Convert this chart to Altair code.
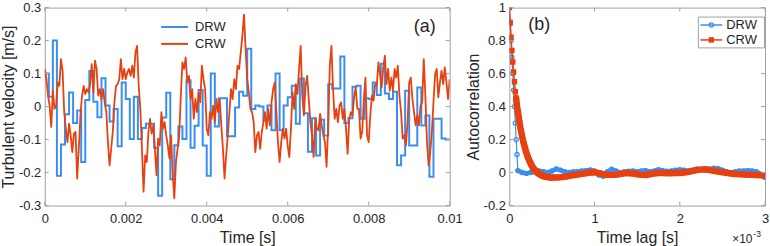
import altair as alt
import pandas as pd

# ---------------- data ----------------
# (a) Discrete random walk: one value per 0.1 ms step
DRW_DT = 1e-4
DRW_STEPS = [
    0.10, 0.03, 0.20, -0.21, -0.115, -0.023, 0.043, -0.05, -0.012, -0.168,
    0.02, 0.108, 0.015, -0.032, 0.086, 0.003, -0.045, -0.007, -0.12, 0.073,
    0.023, -0.098, 0.03, -0.098, -0.065, -0.052, -0.052, -0.125, -0.27, -0.033,
    0.042, -0.22, -0.117, -0.06, -0.098, 0.08, -0.125, -0.058, 0.05, -0.118,
    -0.21, 0.10, -0.06, 0.025, 0.025, -0.09, -0.09, -0.003, 0.045, 0.033,
    0.175, -0.007, 0.003, 0.0, -0.042, 0.003, -0.072, 0.10, -0.072, 0.003,
    0.028, 0.063, -0.052, 0.085, -0.02, -0.137, -0.035, -0.148, -0.04, -0.088,
    0.068, 0.055, 0.055, 0.152, -0.05, -0.035, 0.06, 0.063, -0.037, 0.025,
    0.023, 0.073, 0.035, 0.13, 0.04, 0.023, 0.045, -0.178, -0.148, 0.048,
    -0.118, -0.118, 0.058, -0.057, -0.027, -0.213, -0.037, -0.037, -0.097, -0.1,
]
T_END = 0.01

# (a) Continuous random walk: one value per 0.04 ms
CRW_DT = 4e-5
CRW_VALUES = [
    0.114, 0.083, 0.033, 0.003, -0.062, 0.048, -0.007, 0.003, 0.073, 0.063,
    0.144, 0.109, -0.017, -0.067, -0.108, -0.052, -0.087, -0.138, -0.082, -0.077,
    -0.218, -0.128, -0.027, 0.033, 0.063, 0.038, 0.053, 0.043, 0.068, 0.129,
    0.043, 0.139, 0.114, 0.033, 0.053, 0.023, 0.053, 0.013, -0.017, -0.108,
    -0.178, -0.128, -0.077, 0.013, 0.063, 0.068, 0.083, 0.144, 0.083, 0.114,
    0.083, 0.104, 0.114, 0.093, 0.124, 0.088, 0.164, 0.184, 0.063, -0.007,
    -0.128, -0.258, -0.148, -0.168, -0.077, -0.037, -0.082, -0.057, -0.128, -0.208,
    -0.097, -0.118, -0.017, -0.067, -0.047, -0.087, -0.118, -0.158, -0.087, -0.208,
    -0.278, -0.168, -0.128, -0.087, 0.033, 0.134, 0.114, 0.149, 0.073, 0.093,
    0.023, 0.053, -0.037, 0.023, -0.017, 0.043, 0.013, 0.124, 0.083, 0.053,
    -0.067, -0.087, -0.017, -0.037, 0.003, -0.047, 0.023, -0.017, 0.023, -0.057,
    -0.128, -0.218, -0.148, -0.087, -0.017, 0.053, 0.023, 0.083, 0.053, 0.124,
    0.114, 0.164, 0.214, 0.279, 0.174, 0.083, 0.043, -0.007, -0.017, -0.047,
    -0.138, -0.087, -0.077, -0.128, -0.077, -0.047, -0.017, -0.067, -0.007, -0.057,
    0.013, 0.053, 0.073, -0.017, -0.108, -0.168, -0.108, -0.067, -0.097, -0.067,
    -0.118, -0.153, -0.067, 0.043, -0.007, 0.068, 0.038, 0.114, 0.184, 0.033,
    -0.027, 0.063, 0.093, 0.023, -0.047, -0.087, -0.153, -0.037, -0.067, -0.072,
    -0.022, -0.057, -0.087, -0.108, -0.183, -0.057, 0.124, 0.184, 0.053, -0.037,
    -0.007, -0.047, 0.003, 0.013, -0.037, -0.007, -0.067, -0.143, -0.037, -0.017,
    -0.027, 0.028, 0.058, -0.007, -0.007, -0.097, -0.077, 0.023, 0.088, -0.087,
    -0.108, -0.027, 0.033, 0.018, 0.068, 0.063, 0.134, 0.098, 0.058, 0.119,
    0.154, 0.068, 0.114, 0.048, 0.088, 0.048, 0.114, 0.088, 0.124, 0.033,
    -0.017, -0.097, -0.087, -0.118, -0.047, 0.073, 0.088, 0.023, -0.017, -0.057,
    -0.027, -0.057, 0.003, 0.013, 0.144, 0.033, -0.108, -0.178, -0.138, -0.077,
    0.013, 0.098, 0.114, 0.028, 0.073, 0.109, 0.068, 0.119, 0.073, 0.023, 0.083,
]

# (b) Autocorrelation, lag in ms (axis is x10^-3 s)
ACF_DRW_LAG = [round(0.01 * i, 2) for i in range(11)] + [round(0.05 * i, 2) for i in range(3, 61)]
ACF_DRW = [
    1.0, 0.9, 0.8, 0.7, 0.6, 0.5, 0.4, 0.3, 0.2, 0.11, 0.012,
    0.0, -0.005, 0.0, 0.005, 0.01, 0.005, 0.0, 0.01,
    0.022, 0.015, 0.005, 0.0, 0.005, 0.005, 0.01, 0.012, 0.016, 0.01,
    -0.015, -0.022, 0.005, 0.02, 0.01, 0.0, 0.005, 0.008, 0.01, 0.006,
    0.01, 0.012, 0.005, 0.01, 0.018, 0.012, 0.008, 0.01, 0.015, 0.018,
    0.015, 0.01, 0.015, 0.022, 0.02, 0.015, 0.02, 0.026, 0.024, 0.015,
    0.005, 0.0, 0.005, 0.01, 0.01, 0.012, 0.01, 0.005, -0.01, -0.03,
]
ACF_CRW_LAG = [round(0.01 * i, 2) for i in range(51)] + [round(0.05 * i, 2) for i in range(11, 61)]
ACF_CRW = [
    1.0, 0.91, 0.82, 0.74, 0.67, 0.61, 0.55, 0.49, 0.45, 0.40,
    0.37, 0.335, 0.30, 0.27, 0.245, 0.22, 0.195, 0.175, 0.155, 0.137,
    0.12, 0.105, 0.091, 0.078, 0.066, 0.055, 0.045, 0.036, 0.028, 0.021,
    0.015, 0.009, 0.004, 0.0, -0.004, -0.008, -0.011, -0.014, -0.017, -0.019,
    -0.021, -0.023, -0.025, -0.026, -0.027, -0.028, -0.029, -0.029, -0.03, -0.03,
    -0.03,
    -0.03, -0.028, -0.025, -0.02, -0.016, -0.012, -0.008, -0.004, 0.0, 0.002,
    -0.003, -0.01, -0.013, -0.014, -0.013, -0.009, -0.004, -0.003, -0.006, -0.01,
    -0.014, -0.015, -0.01, -0.005, -0.003, -0.003, -0.004, -0.004, -0.003, -0.002,
    0.0, 0.004, 0.01, 0.015, 0.018, 0.02, 0.016, 0.01, 0.006, 0.002,
    -0.002, -0.006, -0.009, -0.011, -0.012, -0.013, -0.014, -0.015, -0.017, -0.02,
]

SERIES = ["DRW", "CRW"]
XT_A = [0, 0.002, 0.004, 0.006, 0.008, 0.01]
YT_A = [-0.3, -0.2, -0.1, 0, 0.1, 0.2, 0.3]
XT_B = [0, 1, 2, 3]
YT_B = [-0.2, 0, 0.2, 0.4, 0.6, 0.8, 1]

# ---------------- styling ----------------
BLUE = "#3a8ef2"
RED = "#e8400e"
BOX = "#a0a0a0"
TXT = "#262626"
FONT = "Liberation Sans"
W1, W2, H = 407, 257, 199
TL = 4  # inside tick length

LBL = "datum.value < 0 ? '-' + format(-datum.value, '~g') : format(datum.value, '~g')"


def axis(values, title_pad, label_pad):
    return alt.Axis(values=values, labelExpr=LBL, ticks=False, domain=False, grid=False,
                    labelFontSize=13, labelColor=TXT, labelFont=FONT,
                    titleFontSize=16, titleFontWeight="normal", titleColor=TXT, titleFont=FONT,
                    titlePadding=title_pad, labelPadding=label_pad, labelFlush=False)


def xa(field, dom, ticks, title):
    return alt.X(field, scale=alt.Scale(domain=dom, nice=False, zero=False),
                 axis=axis(ticks, 4, 7), title=title)


def ya(field, dom, ticks, title):
    return alt.Y(field, scale=alt.Scale(domain=dom, nice=False, zero=False),
                 axis=axis(ticks, 2, 4), title=title)


def inside_ticks(xticks, yticks, w, xf, yf):
    xdf = pd.DataFrame({"tx": xticks})
    ydf = pd.DataFrame({"ty": yticks})
    base_x = alt.Chart(xdf).mark_rule(color=BOX, strokeWidth=1)
    base_y = alt.Chart(ydf).mark_rule(color=BOX, strokeWidth=1)
    return [
        base_x.encode(x=xf("tx:Q"), y=alt.value(H), y2=alt.value(H - TL)),
        base_x.encode(x=xf("tx:Q"), y=alt.value(0), y2=alt.value(TL)),
        base_y.encode(y=yf("ty:Q"), x=alt.value(0), x2=alt.value(TL)),
        base_y.encode(y=yf("ty:Q"), x=alt.value(w), x2=alt.value(w - TL)),
    ]


one = pd.DataFrame({"k": [0]})

# ---------------- panel (a) ----------------
drw_t = [i * DRW_DT for i in range(len(DRW_STEPS))] + [T_END]
drw_df = pd.DataFrame({"t": drw_t, "v": DRW_STEPS + [DRW_STEPS[-1]]})
crw_df = pd.DataFrame({"t": [i * CRW_DT for i in range(len(CRW_VALUES))], "v": CRW_VALUES})

XA = lambda f: xa(f, [0, 0.01], XT_A, "Time [s]")
YA = lambda f: ya(f, [-0.3, 0.3], YT_A, "Turbulent velocity [m/s]")

drw_line = alt.Chart(drw_df).mark_line(interpolate="step-after", color=BLUE, strokeWidth=2, clip=True).encode(
    x=XA("t:Q"), y=YA("v:Q"))
crw_line = alt.Chart(crw_df).mark_line(color=RED, strokeWidth=1.8, clip=True, strokeJoin="round").encode(
    x=XA("t:Q"), y=YA("v:Q"))

leg_a = []
for i, (name, col) in enumerate(zip(SERIES, [BLUE, RED])):
    yy = 19.5 + 17 * i
    leg_a.append(alt.Chart(one).mark_rule(color=col, strokeWidth=2).encode(
        x=alt.value(117), x2=alt.value(144), y=alt.value(yy)))
    leg_a.append(alt.Chart(one).mark_text(text=name, align="left", baseline="middle", fontSize=13,
                                          font=FONT, color=TXT).encode(x=alt.value(151), y=alt.value(yy)))
lab_a = alt.Chart(one).mark_text(text="(a)", align="left", baseline="middle", fontSize=18, font=FONT,
                                 color=TXT).encode(x=alt.value(371), y=alt.value(20))

panel_a = alt.layer(drw_line, crw_line, *inside_ticks(XT_A, YT_A, W1, XA, YA), *leg_a, lab_a).properties(
    width=W1, height=H)

# ---------------- panel (b) ----------------
acf_d = pd.DataFrame({"lag": ACF_DRW_LAG, "r": ACF_DRW})
acf_c = pd.DataFrame({"lag": ACF_CRW_LAG, "r": ACF_CRW})

XB = lambda f: xa(f, [0, 3], XT_B, "Time lag [s]")
YB = lambda f: ya(f, [-0.2, 1], YT_B, "Autocorrelation")

d_thin = alt.Chart(acf_d).mark_line(color=BLUE, strokeWidth=1.2, clip=True).encode(x=XB("lag:Q"), y=YB("r:Q"))
d_thick = alt.Chart(acf_d).transform_filter("datum.lag >= 0.1").mark_line(
    color=BLUE, strokeWidth=4.5, strokeCap="round", strokeJoin="round", clip=True).encode(x=XB("lag:Q"), y=YB("r:Q"))
d_pts = alt.Chart(acf_d).mark_point(shape="circle", filled=False, size=18, strokeWidth=1.2, color=BLUE,
                                    opacity=1, clip=True).encode(x=XB("lag:Q"), y=YB("r:Q"))
c_thin = alt.Chart(acf_c).mark_line(color=RED, strokeWidth=1.5, clip=True).encode(x=XB("lag:Q"), y=YB("r:Q"))
c_thick = alt.Chart(acf_c).transform_filter("datum.lag >= 0.08").mark_line(
    color=RED, strokeWidth=6.5, strokeCap="round", strokeJoin="round", clip=True).encode(x=XB("lag:Q"), y=YB("r:Q"))
c_pts = alt.Chart(acf_c).mark_point(shape="square", filled=True, size=30, color=RED, opacity=1,
                                    clip=True).encode(x=XB("lag:Q"), y=YB("r:Q"))

LX = W2 - 67
leg_box = alt.Chart(one).mark_rect(fill="white", stroke=BOX, strokeWidth=1).encode(
    x=alt.value(LX), x2=alt.value(W2 - 0.5), y=alt.value(9.5), y2=alt.value(40.5))
leg_b = [leg_box]
for i, (name, col, shp, fl, sz) in enumerate(zip(SERIES, [BLUE, RED], ["circle", "square"],
                                                  [False, True], [18, 30])):
    yy = 17.5 + 15 * i
    leg_b.append(alt.Chart(one).mark_rule(color=col, strokeWidth=1.5).encode(
        x=alt.value(LX + 2), x2=alt.value(LX + 24), y=alt.value(yy)))
    leg_b.append(alt.Chart(one).mark_point(shape=shp, filled=fl, size=sz, color=col, opacity=1,
                                           strokeWidth=1.2).encode(x=alt.value(LX + 13), y=alt.value(yy)))
    leg_b.append(alt.Chart(one).mark_text(text=name, align="left", baseline="middle", fontSize=13,
                                          font=FONT, color=TXT).encode(x=alt.value(LX + 28), y=alt.value(yy)))
lab_b = alt.Chart(one).mark_text(text="(b)", align="left", baseline="middle", fontSize=18, font=FONT,
                                 color=TXT).encode(x=alt.value(19), y=alt.value(18))
exp1 = alt.Chart(one).mark_text(text="\u00d710", align="left", baseline="alphabetic", fontSize=12, font=FONT,
                                color=TXT).encode(x=alt.value(W2 - 33), y=alt.value(237))
exp2 = alt.Chart(one).mark_text(text="-3", align="left", baseline="alphabetic", fontSize=9, font=FONT,
                                color=TXT).encode(x=alt.value(W2 - 12), y=alt.value(231))

panel_b = alt.layer(d_thin, d_thick, d_pts, c_thin, c_thick, c_pts,
                    *inside_ticks(XT_B, YT_B, W2, XB, YB), *leg_b, lab_b, exp1, exp2).properties(
    width=W2, height=H)

chart = alt.hconcat(panel_a, panel_b, spacing=1).properties(
    padding={"left": 0, "top": 0, "right": 0, "bottom": 0},
    background="white",
).configure_view(stroke=BOX, strokeWidth=1).configure_concat(spacing=1)

chart.save("out.html", embed_options={"renderer": "svg", "actions": False})
